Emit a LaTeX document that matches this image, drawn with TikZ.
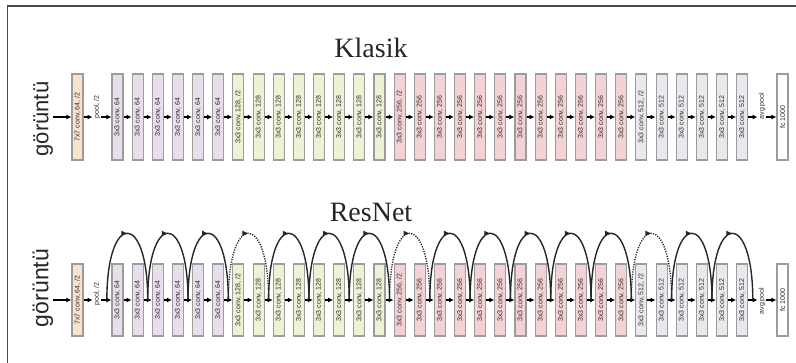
\documentclass[tikz,border=0pt]{standalone}
\usepackage{fontspec}
\setmainfont{Liberation Serif}
\setsansfont{Liberation Sans}
\usetikzlibrary{arrows.meta,calc,decorations.markings}

\definecolor{cOrg}{HTML}{FBE2CC}
\definecolor{cPur}{HTML}{E9DFEC}
\definecolor{cGrn}{HTML}{EEF1D3}
\definecolor{cPnk}{HTML}{F3D2D6}
\definecolor{cGry}{HTML}{E7E9ED}
\definecolor{cEdge}{HTML}{9C9C9C}
\definecolor{cInk}{HTML}{2A2A2A}
\definecolor{cFrame}{HTML}{4A4A4A}

\tikzset{
  layer/.style={draw=cEdge, line width=1.1pt, minimum width=11pt, inner sep=0pt,
    text=cInk, font=\sffamily\fontsize{7}{8}\selectfont},
  ptxt/.style={inner sep=1pt, text=cInk, font=\sffamily\fontsize{7}{8}\selectfont},
  arr/.style={-{Latex[length=5pt,width=5pt]}, line width=1.2pt, draw=black},
  solidarc/.style={line width=1.4pt, draw=black!85,
    postaction={decorate}, decoration={markings,
      mark=at position 0.5 with {\arrow{Latex[length=6pt,width=5.5pt]}}}},
  dotarc/.style={solidarc, dash pattern=on 1.2pt off 1.3pt},
  title/.style={anchor=base, text=black!85, font=\fontsize{28}{30}\selectfont},
  imgtxt/.style={rotate=90, text=black!85}
}

\begin{document}
\begin{tikzpicture}[x=1pt,y=-1pt]
\useasboundingbox (0,0) rectangle (796,363);

% frame
\draw[cFrame, line width=1.6pt] (796,5.8) -- (7.5,5.8) -- (7.5,363);

% titles
\node[title] (klasik) at (371,58) {Klasik};
\node[title] (resnet) at (371,222) {ResNet};

% both networks: t = plain, b = residual
\foreach \r/\yc/\hh/\py/\ay in {t/117/86/107/106, b/300/72/294/301} {
  \node[layer, fill=cOrg, minimum height=\hh] (\r o) at (77.5,\yc) {\rotatebox{90}{7x7 conv, 64, /2}};
  \node[ptxt] (\r pool) at (97,\py) {\rotatebox{90}{pool, /2}};
  \foreach \i in {0,...,31} {
    \pgfmathsetmacro\cx{117.5+20.15*\i}
    \ifnum\i<6 \def\col{cPur}\def\ch{64}\else
      \ifnum\i<14 \def\col{cGrn}\def\ch{128}\else
        \ifnum\i<26 \def\col{cPnk}\def\ch{256}\else
          \def\col{cGry}\def\ch{512}\fi\fi\fi
    \def\sfx{}
    \ifnum\i=6 \def\sfx{, /2}\fi
    \ifnum\i=14 \def\sfx{, /2}\fi
    \ifnum\i=26 \def\sfx{, /2}\fi
    \node[layer, fill=\col, minimum height=\hh] (\r\i) at (\cx,\yc) {\rotatebox{90}{3x3 conv, \ch\sfx}};
  }
  \node[ptxt] (\r avg) at (762,\ay) {\rotatebox{90}{avg pool}};
  \node[layer, fill=white, minimum height=\hh] (\r fc) at (782.5,\yc) {\rotatebox{90}{fc 1000}};

  % forward arrows
  \coordinate (\r in) at (53,\yc);
  \draw[arr] (\r in) -- (\r o);
  \draw[arr] (\r o) -- (\r o.east -| \r pool.west);
  \draw[arr] (\r pool.east |- \r 0.west) -- (\r 0);
  \foreach \i [evaluate=\i as \j using int(\i+1)] in {0,...,30}
    \draw[arr] (\r\i) -- (\r\j);
  \draw[arr] (\r 31) -- (\r 31.east -| \r avg.west);
  \draw[arr] (\r avg.east |- \r fc.west) -- (\r fc);
}

% input labels
\node[imgtxt, font=\sffamily\fontsize{22}{24}\selectfont] (img1) at (43,119) {görüntü};
\node[imgtxt, font=\sffamily\fontsize{23}{25}\selectfont] (img2) at (43,288) {görüntü};

% junctions between residual blocks
\coordinate (j0) at ($(b0.west)+(-4.6,0)$);
\foreach \k in {1,...,15} {
  \pgfmathtruncatemacro\a{2*\k}
  \pgfmathtruncatemacro\p{2*\k-1}
  \coordinate (j\a) at ($(b\p.east)!0.5!(b\a.west)$);
}
\coordinate (j32) at ($(b31.east)+(4.6,0)$);

% identity shortcuts
\foreach \k in {0,1,2,4,5,6,8,9,10,11,12,14,15} {
  \pgfmathtruncatemacro\a{2*\k}
  \pgfmathtruncatemacro\e{2*\k+2}
  \draw[solidarc] (j\a) .. controls +(0,-89) and +(0,-89) .. (j\e);
}
% projection shortcuts
\foreach \k in {3,7,13} {
  \pgfmathtruncatemacro\a{2*\k}
  \pgfmathtruncatemacro\e{2*\k+2}
  \draw[dotarc] (j\a) .. controls +(0,-89) and +(0,-89) .. (j\e);
}
\end{tikzpicture}
\end{document}
